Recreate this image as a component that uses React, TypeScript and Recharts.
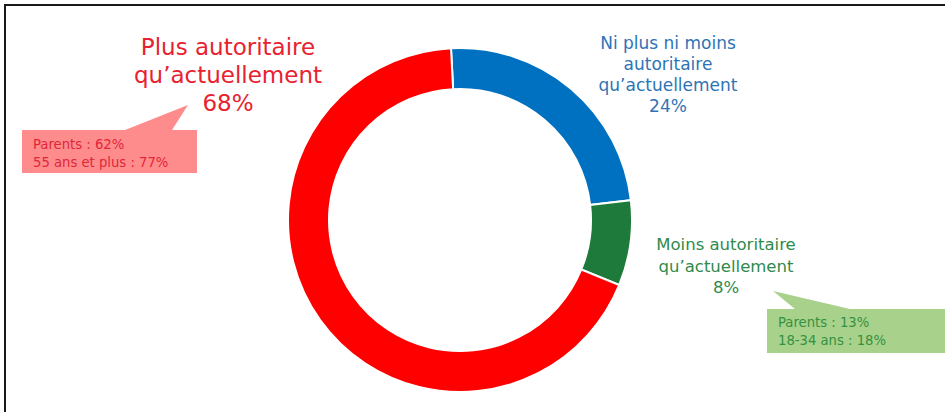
import { PieChart, Pie, Cell } from "recharts";

const categories = [
  "Ni plus ni moins autoritaire qu’actuellement",
  "Moins autoritaire qu’actuellement",
  "Plus autoritaire qu’actuellement",
];
const shares = [24, 8, 68];
const labelLines = [
  ["Ni plus ni moins", "autoritaire", "qu’actuellement"],
  ["Moins autoritaire", "qu’actuellement"],
  ["Plus autoritaire", "qu’actuellement"],
];
const details: (string[] | null)[] = [
  null,
  ["Parents : 13%", "18-34 ans : 18%"],
  ["Parents : 62%", "55 ans et plus : 77%"],
];

const data = categories.map((name, i) => ({ name, value: shares[i] }));

const sliceColors = ["#0070C0", "#1E7A3A", "#FF0000"];
const textColors = ["#2E74B5", "#2F8A4C", "#E8222F"];
const boxColors = ["", "#A8D18C", "#FF8C8C"];
const boxTextColors = ["", "#34913F", "#E0263A"];

// label placement (center x, first baseline, line step, font size)
const labelPos = [
  { x: 668, y: 49, step: 21, size: 17 },
  { x: 726, y: 250, step: 21.5, size: 16.5 },
  { x: 228, y: 55, step: 28, size: 23 },
];

// callout boxes: polygon points and text origin
const callouts = [
  null,
  {
    points: "767,309 795,309 773,291 850,309 945,309 945,353 767,353",
    tx: 778,
    ty: 327,
  },
  {
    points: "22,130 125,130 188,105 172,130 197,130 197,173 22,173",
    tx: 33,
    ty: 149,
  },
];

const FONT = "'DejaVu Sans', Verdana, sans-serif";

function renderLabel(props: any) {
  const i: number = props.index;
  const pos = labelPos[i];
  const lines = [...labelLines[i], `${shares[i]}%`];
  const box = callouts[i];
  const det = details[i];
  return (
    <g key={`lbl-${i}`}>
      {box && det && (
        <g>
          <polygon points={box.points} fill={boxColors[i]} />
          <text
            x={box.tx}
            y={box.ty}
            fontFamily={FONT}
            fontSize={13.2}
            fill={boxTextColors[i]}
          >
            {det.map((d, k) => (
              <tspan key={k} x={box.tx} dy={k === 0 ? 0 : 18}>
                {d}
              </tspan>
            ))}
          </text>
        </g>
      )}
      <text
        x={pos.x}
        y={pos.y}
        textAnchor="middle"
        fontFamily={FONT}
        fontSize={pos.size}
        fill={textColors[i]}
      >
        {lines.map((l, k) => (
          <tspan key={k} x={pos.x} dy={k === 0 ? 0 : pos.step}>
            {l}
          </tspan>
        ))}
      </text>
    </g>
  );
}

export default function App() {
  return (
    <div
      style={{
        position: "absolute",
        left: 0,
        top: 0,
        width: 945,
        height: 412,
        background: "#fff",
        overflow: "hidden",
      }}
    >
      <div
        style={{
          position: "absolute",
          left: 4,
          top: 4,
          width: 945,
          height: 412,
          borderTop: "2px solid #1a1a1a",
          borderLeft: "2px solid #1a1a1a",
        }}
      />
      <PieChart
        width={945}
        height={412}
        margin={{ top: 0, right: 0, bottom: 0, left: 0 }}
      >
        <Pie
          data={data}
          dataKey="value"
          nameKey="name"
          cx={460}
          cy={220}
          innerRadius={131}
          outerRadius={172}
          startAngle={93}
          endAngle={-267}
          stroke="#fff"
          strokeWidth={2}
          label={renderLabel}
          labelLine={false}
          isAnimationActive={false}
        >
          {data.map((d, i) => (
            <Cell key={d.name} fill={sliceColors[i]} />
          ))}
        </Pie>
      </PieChart>
    </div>
  );
}
